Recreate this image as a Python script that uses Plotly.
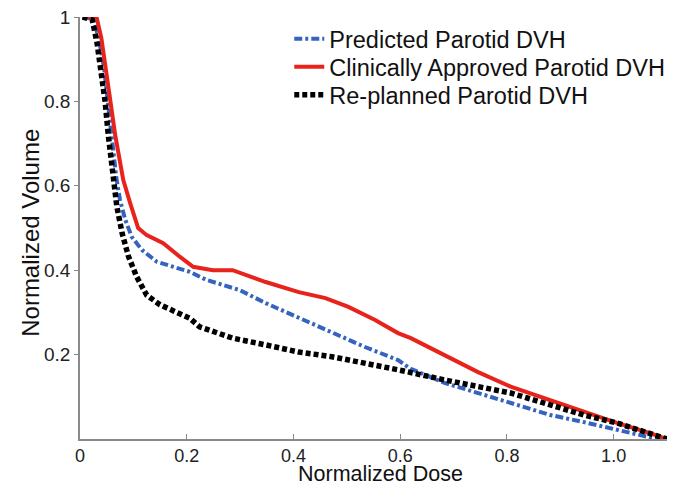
import plotly.graph_objects as go

# Normalized dose (x) and normalized volume (y) for each DVH curve
pred_x = [0.005, 0.025, 0.035, 0.045, 0.052, 0.060, 0.068, 0.075, 0.085, 0.097, 0.116, 0.144, 0.175, 0.206,
          0.237, 0.268, 0.299, 0.348, 0.410, 0.472, 0.534, 0.596, 0.620, 0.683, 0.745, 0.807, 0.881, 0.944,
          1.006, 1.068, 1.098]
pred_y = [1.000, 0.995, 0.950, 0.880, 0.800, 0.700, 0.620, 0.566, 0.519, 0.479, 0.448, 0.420, 0.408, 0.396,
          0.377, 0.365, 0.353, 0.322, 0.287, 0.251, 0.218, 0.187, 0.166, 0.133, 0.109, 0.085, 0.057, 0.040,
          0.021, 0.004, 0.000]

clin_x = [0.005, 0.031, 0.040, 0.050, 0.057, 0.066, 0.075, 0.081, 0.094, 0.109, 0.125, 0.156, 0.187, 0.212,
          0.249, 0.286, 0.348, 0.410, 0.460, 0.503, 0.553, 0.596, 0.620, 0.683, 0.745, 0.807, 0.869, 0.944,
          1.006, 1.068, 1.100]
clin_y = [1.000, 1.000, 0.950, 0.870, 0.800, 0.720, 0.660, 0.614, 0.559, 0.500, 0.483, 0.464, 0.432, 0.408,
          0.400, 0.400, 0.372, 0.348, 0.334, 0.313, 0.282, 0.251, 0.239, 0.199, 0.159, 0.124, 0.097, 0.064,
          0.038, 0.014, 0.000]

repl_x = [0.005, 0.023, 0.032, 0.041, 0.047, 0.053, 0.057, 0.063, 0.069, 0.079, 0.091, 0.106, 0.125, 0.150,
          0.181, 0.206, 0.224, 0.286, 0.348, 0.410, 0.472, 0.534, 0.596, 0.683, 0.745, 0.807, 0.881, 0.944,
          1.006, 1.068, 1.100]
repl_y = [1.000, 0.993, 0.938, 0.858, 0.800, 0.720, 0.680, 0.630, 0.551, 0.487, 0.432, 0.385, 0.341, 0.318,
          0.302, 0.286, 0.266, 0.239, 0.223, 0.206, 0.195, 0.180, 0.164, 0.140, 0.124, 0.109, 0.081, 0.057,
          0.038, 0.014, 0.000]

names = ["Predicted Parotid DVH", "Clinically Approved Parotid DVH", "Re-planned Parotid DVH"]

x_title = "Normalized Dose"
y_title = "Normalized Volume"

x_ticks = [0, 0.2, 0.4, 0.6, 0.8, 1.0]
x_tick_text = ["0", "0.2", "0.4", "0.6", "0.8", "1.0"]
y_ticks = [0.2, 0.4, 0.6, 0.8, 1.0]
y_tick_text = ["0.2", "0.4", "0.6", "0.8", "1"]

FONT = "Liberation Sans, Arial, Helvetica, sans-serif"

fig = go.Figure()
fig.add_trace(go.Scatter(x=pred_x, y=pred_y, mode="lines", name=names[0],
                         line=dict(color="#3563c0", width=4, dash="8px,3px,3px,3px"),
                         legend="legend"))
fig.add_trace(go.Scatter(x=clin_x, y=clin_y, mode="lines", name=names[1],
                         line=dict(color="#e8231c", width=4),
                         legend="legend2"))
fig.add_trace(go.Scatter(x=repl_x, y=repl_y, mode="lines", name=names[2],
                         line=dict(color="#000000", width=5.5, dash="5px,3px"),
                         legend="legend3"))

leg_common = dict(x=0.3565, xanchor="left", yanchor="middle", bgcolor="rgba(0,0,0,0)",
                  font=dict(family=FONT, size=23.5, color="#111111"))

def ypaper(py):
    return 1 - (py - 17) / 422

def xpaper(px):
    return (px - 79.5) / 590.5

fig.update_layout(
    width=681, height=487,
    margin=dict(l=79.5, r=11, t=17, b=48),
    paper_bgcolor="white", plot_bgcolor="white",
    showlegend=True,
    legend=dict(y=ypaper(39), **leg_common),
    legend2=dict(y=ypaper(67), **leg_common),
    legend3=dict(y=ypaper(95), **leg_common),
    xaxis=dict(range=[0, 1.1], tickvals=x_ticks, ticktext=x_tick_text, automargin=False,
               showgrid=False, zeroline=False, showline=True, linecolor="#8a8a8a", linewidth=1.5,
               ticks="inside", ticklen=5, tickcolor="#8a8a8a", tickwidth=1,
               ticklabelstandoff=0,
               tickfont=dict(family=FONT, size=18, color="#222222")),
    yaxis=dict(range=[0, 1], tickvals=y_ticks, ticktext=y_tick_text, automargin=False,
               showgrid=False, zeroline=False, showline=True, linecolor="#8a8a8a", linewidth=1.5,
               ticks="outside", ticklen=4, tickcolor="#8a8a8a", tickwidth=1,
               tickfont=dict(family=FONT, size=19, color="#222222")),
    annotations=[
        dict(text=x_title, xref="paper", yref="paper", x=xpaper(382), y=ypaper(487),
             xanchor="center", yanchor="bottom", showarrow=False, borderpad=0,
             font=dict(family=FONT, size=21.5, color="#111111")),
        dict(text=y_title, xref="paper", yref="paper", x=xpaper(30), y=ypaper(233),
             xanchor="center", yanchor="middle", showarrow=False, textangle=-90,
             font=dict(family=FONT, size=24, color="#111111")),
    ],
)

fig.write_html("out.html")
